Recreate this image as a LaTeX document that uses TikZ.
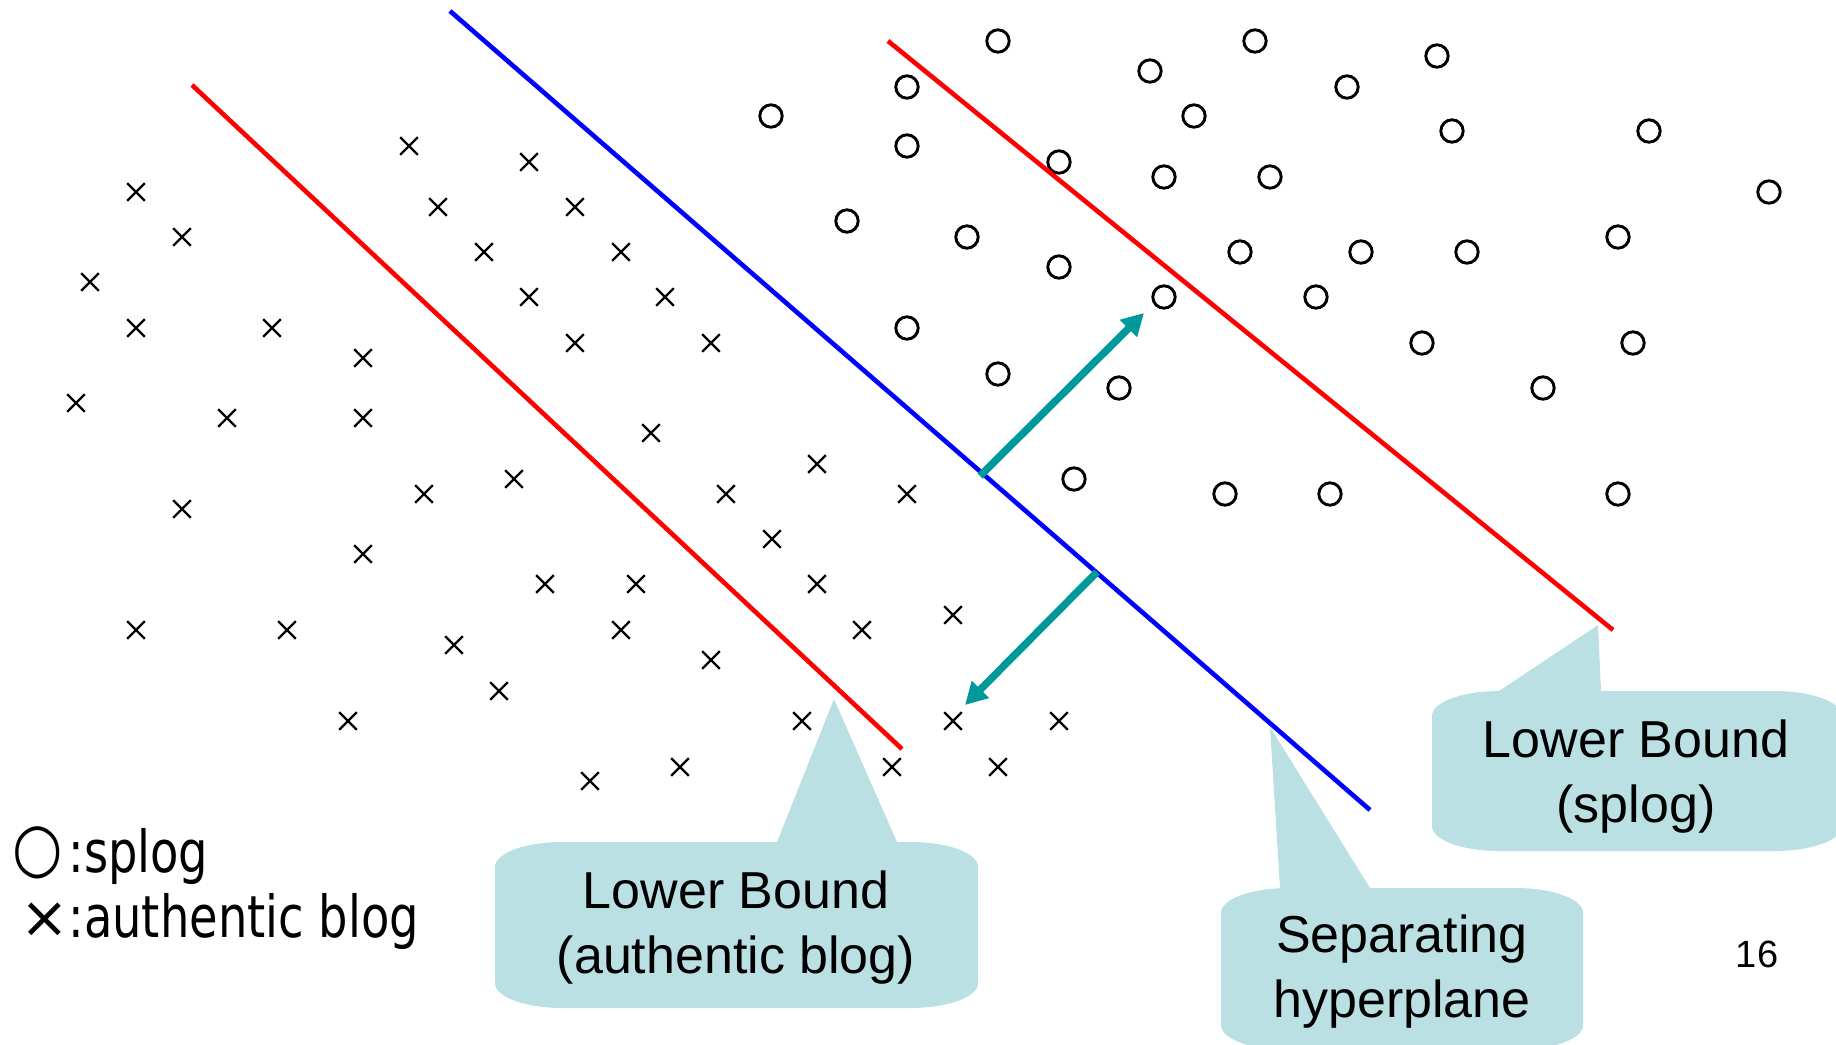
\documentclass[tikz,border=0pt]{standalone}
\usepackage{fontspec}
\setmainfont{Liberation Sans}
\newfontfamily\legendfont[FakeStretch=0.8]{DejaVu Sans}
\newfontfamily\symfont{DejaVu Sans}
\usetikzlibrary{arrows.meta,shapes.misc}
\definecolor{bubblecol}{RGB}{187,224,227}
\definecolor{margincol}{RGB}{0,153,153}

% speech bubble: box (#1,#2)-(#3,#4), pointer base #5..#6 on the top edge, tip (#7,#8)
\newcommand\bubble[8]{%
  \fill[bubblefill] ({#1+68},#2) -- (#5,#2) -- (#7,#8) -- (#6,#2) -- ({#3-68},#2)
    .. controls ({#3-30},#2) and (#3,{#2+11}) .. (#3,{#2+25})
    -- (#3,{#4-25})
    .. controls (#3,{#4-11}) and ({#3-30},#4) .. ({#3-68},#4)
    -- ({#1+68},#4)
    .. controls ({#1+30},#4) and (#1,{#4-11}) .. (#1,{#4-25})
    -- (#1,{#2+25})
    .. controls (#1,{#2+11}) and ({#1+30},#2) .. ({#1+68},#2) -- cycle;}

\begin{document}
\begin{tikzpicture}[x=0.5pt,y=-0.5pt,
  omark/.style={circle,draw=black,line width=1.45pt,minimum size=11.2pt,inner sep=0pt},
  xmark/.style={cross out,draw=black,line width=1.2pt,minimum size=7.6pt,inner sep=0pt},
  bound/.style={draw=red,line width=2.3pt},
  hyper/.style={draw=blue,line width=2.3pt},
  margin/.style={draw=margincol,line width=3.7pt,-{Triangle[length=11pt,width=11.5pt]}},
  bubblefill/.style={fill=bubblecol},
  bubtext/.style={font=\fontsize{26pt}{32.5pt}\selectfont,align=center,inner sep=0pt},
  legtext/.style={font=\legendfont\fontsize{29pt}{29pt}\selectfont,inner sep=0pt,anchor=base west}]

\fill[white] (0,0) rectangle (1836,1044);
\useasboundingbox (0,0) rectangle (1836,1044);

% splog points
\foreach \px/\py [count=\i] in {998/41,1255/41,1150/71,1437/56,907/87,1347/87,771/116,1194/116,
  1452/131,1649/131,907/146,1059/162,1164/177,1270/177,1769/192,847/221,967/237,1240/252,
  1361/252,1467/252,1618/237,1059/267,1164/297,1316/297,907/328,1422/343,1633/343,998/374,
  1119/388,1543/388,1074/479,1225/494,1330/494,1618/494}
  \node[omark] (o\i) at (\px,\py) {};

% authentic blog points
\foreach \px/\py [count=\i] in {409/146,529/162,136/192,438/207,575/207,182/237,484/252,621/252,
  90/282,529/297,665/297,136/328,272/328,575/343,711/343,363/358,76/403,227/418,363/418,
  651/433,514/479,424/494,726/494,817/464,907/494,182/509,772/539,363/554,545/584,636/584,
  817/584,953/615,862/630,136/630,287/630,621/630,454/645,711/660,499/691,348/721,802/721,
  953/721,1059/721,680/767,892/767,998/767,590/781}
  \node[xmark] (x\i) at (\px,\py) {};

% bounds and separating hyperplane
\coordinate (ba1) at (192,85);   \coordinate (ba2) at (902,749);
\coordinate (hp1) at (450,11);   \coordinate (hp2) at (1370,810);
\coordinate (bs1) at (888,41);   \coordinate (bs2) at (1613,630);
\draw[bound] (ba1) -- (ba2);
\draw[hyper] (hp1) -- (hp2);
\draw[bound] (bs1) -- (bs2);

% margin arrows
\coordinate (m1a) at (980,476);  \coordinate (m1b) at (1144,313);
\coordinate (m2a) at (1097,572); \coordinate (m2b) at (965,705);
\draw[margin] (m1a) -- (m1b);
\draw[margin] (m2a) -- (m2b);

% callouts (the base anchor of a two-line node sits on its last line)
\bubble{495}{842}{978}{1008}{777}{897}{834}{699}
\node[bubtext,anchor=base] (cb1) at (736,973) {Lower Bound\\(authentic blog)};

\bubble{1432}{691}{1842}{851}{1499}{1601}{1598}{625}
\node[bubtext,anchor=base] (cb2) at (1636,822) {Lower Bound\\(splog)};

\bubble{1221}{888}{1583}{1050}{1280}{1370}{1270}{727}
\node[bubtext,anchor=base] (cb3) at (1402,1017) {Separating\\hyperplane};

% legend
\node[legtext] (leg1) at (12,872) {\makebox[28pt][l]{\raisebox{1pt}{\scalebox{0.85}[1]{\symfont\fontsize{34pt}{34pt}\selectfont ○}}}:splog};
\node[legtext] (leg2) at (12,937) {\makebox[28pt][l]{\hspace{4pt}\symfont ×}:authentic blog};

% page number
\node[font=\fontsize{19pt}{19pt}\selectfont,anchor=base,inner sep=0pt] (pg) at (1757,967) {16};
\end{tikzpicture}
\end{document}
